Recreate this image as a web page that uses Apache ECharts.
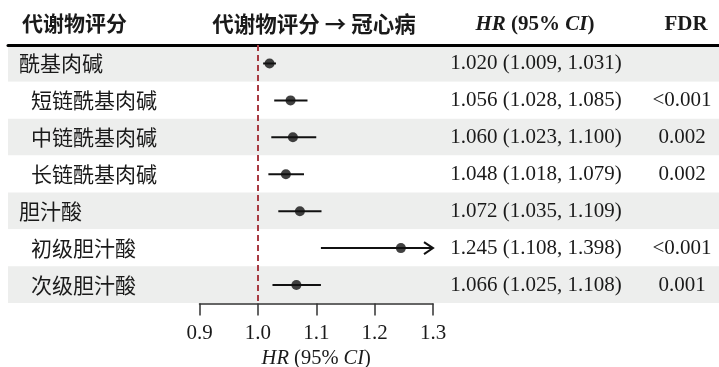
<!DOCTYPE html>
<html>
<head>
<meta charset="utf-8">
<script src="https://cdn.jsdelivr.net/npm/echarts@6/dist/echarts.min.js"></script>
<style>
html,body{margin:0;padding:0;background:#fff;}
#chart{width:719px;height:367px;}
</style>
</head>
<body>
<div id="chart"></div>
<script>
// ---- data ----
const rowNames = ['酰基肉碱','短链酰基肉碱','中链酰基肉碱','长链酰基肉碱','胆汁酸','初级胆汁酸','次级胆汁酸'];
const rowIsSub = [false, true, true, true, false, true, true];
const hrValues = [1.020, 1.056, 1.060, 1.048, 1.072, 1.245, 1.066];
const ciLower  = [1.009, 1.028, 1.023, 1.018, 1.035, 1.108, 1.025];
const ciUpper  = [1.031, 1.085, 1.100, 1.079, 1.109, 1.398, 1.108];
const fdrText  = ['', '<0.001', '0.002', '0.002', '', '<0.001', '0.001'];
const xMin = 0.9, xMax = 1.3, xStep = 0.1;
const refValue = 1.0;

const CJK = '"Noto Sans CJK SC", "Noto Sans", sans-serif';
const SERIF = '"Liberation Serif", "DejaVu Serif", serif';
const TXT = '#1a1a1a';

const hrText = hrValues.map((v, i) => v.toFixed(3) + ' (' + ciLower[i].toFixed(3) + ', ' + ciUpper[i].toFixed(3) + ')');

const chart = echarts.init(document.getElementById('chart'), null, {renderer: 'canvas'});

const option = {
  backgroundColor: '#ffffff',
  animation: false,
  title: [
    {text: '代谢物评分', left: 17, top: 8, textStyle: {fontFamily: CJK, fontSize: 21, fontWeight: 'bold', color: TXT}},
    {text: '代谢物评分 → 冠心病', left: 309, top: 8, textAlign: 'center', textStyle: {fontFamily: CJK, fontSize: 21.5, fontWeight: 'bold', color: TXT}},
    {text: '{i|HR}{n| (95% }{i|CI}{n|)}', left: 530, top: 9, textAlign: 'center',
      textStyle: {rich: {
        i: {fontFamily: SERIF, fontSize: 21, fontWeight: 'bold', fontStyle: 'italic', color: TXT},
        n: {fontFamily: SERIF, fontSize: 21, fontWeight: 'bold', color: TXT}
      }}},
    {text: 'FDR', left: 681, top: 9, textAlign: 'center', textStyle: {fontFamily: SERIF, fontSize: 21, fontWeight: 'bold', color: TXT}}
  ],
  grid: [
    {left: 8, right: 0, top: 45, bottom: 64, containLabel: false, outerBoundsMode: 'none'},
    {left: 199.5, right: 286, top: 45, bottom: 63.5, containLabel: false, outerBoundsMode: 'none'}
  ],
  xAxis: [
    {gridIndex: 0, type: 'value', position: 'top', min: 0, max: 1,
      axisLine: {show: true, lineStyle: {color: '#000', width: 3}},
      axisTick: {show: false}, axisLabel: {show: false}, splitLine: {show: false}},
    {gridIndex: 1, type: 'value', min: xMin, max: xMax, interval: xStep,
      axisLine: {show: true, lineStyle: {color: '#333', width: 1.5}},
      axisTick: {show: true, length: 12, lineStyle: {color: '#333', width: 1.5}},
      axisLabel: {margin: 19, fontFamily: SERIF, fontSize: 21, color: TXT, formatter: v => v.toFixed(1)},
      splitLine: {show: false},
      name: '{i|HR}{n| (95% }{i|CI}{n|)}', nameLocation: 'middle', nameGap: 38,
      nameTextStyle: {rich: {
        i: {fontFamily: SERIF, fontSize: 20.5, fontStyle: 'italic', color: TXT},
        n: {fontFamily: SERIF, fontSize: 20.5, color: TXT}
      }}}
  ],
  yAxis: [
    {gridIndex: 0, type: 'category', inverse: true, data: rowNames,
      axisLine: {show: false}, axisTick: {show: false},
      splitArea: {show: true, areaStyle: {color: ['#edeeed', '#ffffff']}},
      axisLabel: {inside: true, margin: 11, interval: 0,
        formatter: (v, i) => rowIsSub[i] ? '{s|' + v + '}' : '{g|' + v + '}',
        rich: {
          g: {fontFamily: CJK, fontSize: 21, color: TXT},
          s: {fontFamily: CJK, fontSize: 21, color: TXT, padding: [0, 0, 0, 12]}
        }}},
    {gridIndex: 1, type: 'category', inverse: true, data: rowNames,
      axisLine: {show: false}, axisTick: {show: false}, axisLabel: {show: false}},
    {gridIndex: 1, type: 'category', inverse: true, data: rowNames, position: 'right', offset: 95,
      axisLine: {show: false}, axisTick: {show: false},
      axisLabel: {margin: 8, align: 'center', interval: 0, fontFamily: SERIF, fontSize: 21, color: TXT,
        padding: [5, 0, 0, 0], formatter: (v, i) => hrText[i]}},
    {gridIndex: 1, type: 'category', inverse: true, data: rowNames, position: 'right', offset: 241,
      axisLine: {show: false}, axisTick: {show: false},
      axisLabel: {margin: 8, align: 'center', interval: 0, fontFamily: SERIF, fontSize: 21, color: TXT,
        padding: [5, 0, 0, 0], formatter: (v, i) => fdrText[i]}}
  ],
  series: [
    {
      type: 'custom', xAxisIndex: 1, yAxisIndex: 1, z: 3,
      encode: {x: [0, 1], y: 2},
      data: rowNames.map((n, i) => [ciLower[i], ciUpper[i], n]),
      renderItem: function (params, api) {
        const lo = api.value(0), hi = api.value(1), idx = api.value(2);
        const a = api.coord([Math.max(lo, xMin), idx]);
        const b = api.coord([Math.min(hi, xMax), idx]);
        const children = [{
          type: 'line',
          shape: {x1: a[0], y1: a[1], x2: b[0], y2: b[1]},
          style: {stroke: '#111', lineWidth: 2}
        }];
        if (hi > xMax) {
          children.push({
            type: 'polyline',
            shape: {points: [[b[0] - 9, b[1] - 6], [b[0], b[1]], [b[0] - 9, b[1] + 6]]},
            style: {stroke: '#111', lineWidth: 2, fill: null}
          });
        }
        return {type: 'group', children: children};
      }
    },
    {
      type: 'scatter', xAxisIndex: 1, yAxisIndex: 1, z: 4,
      symbol: 'circle', symbolSize: 10,
      itemStyle: {color: '#111'},
      data: rowNames.map((n, i) => [hrValues[i], n]),
      markLine: {
        silent: true, symbol: ['none', 'none'], label: {show: false},
        lineStyle: {color: '#a83a42', width: 2, type: [6, 4]},
        data: [{xAxis: refValue}]
      }
    }
  ]
};
chart.setOption(option);
</script>
</body>
</html>
